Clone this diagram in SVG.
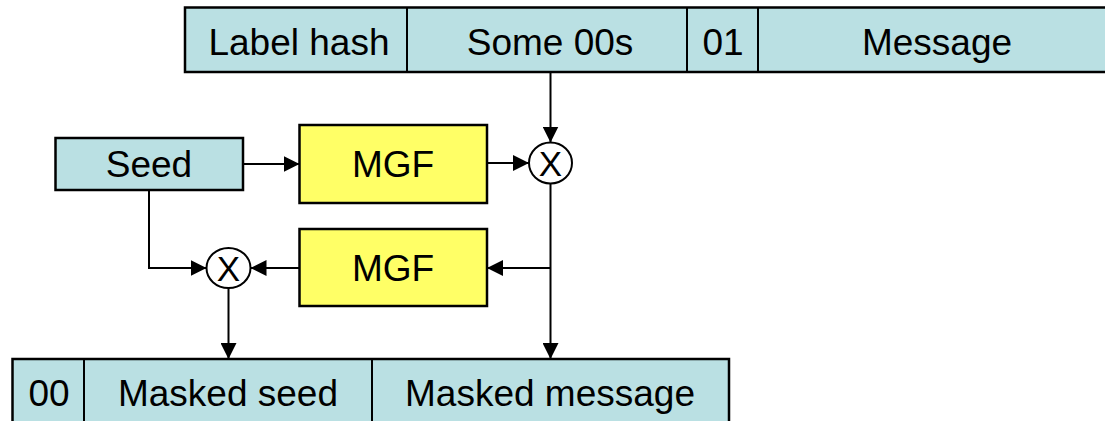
<svg xmlns="http://www.w3.org/2000/svg" width="1105" height="421" viewBox="0 0 1105 421">
  <defs>
    <style>
      .field { fill: #BAE0E3; stroke: #000; stroke-width: 2.5; }
      .sep { stroke: #000; stroke-width: 2; }
      .func { fill: #FFFF66; stroke: #000; stroke-width: 2.5; }
      .xor { fill: #fff; stroke: #000; stroke-width: 2; }
      .lbl { font-family: "Liberation Sans", Arial, sans-serif; font-size: 37px; fill: #000; text-anchor: middle; }
      .xlbl { font-family: "Liberation Sans", Arial, sans-serif; font-size: 35px; fill: #000; text-anchor: middle; }
      .wire { fill: none; stroke: #000; stroke-width: 2; }
    </style>
    <marker id="arrow" markerUnits="userSpaceOnUse" markerWidth="16" markerHeight="16" refX="16" refY="8" orient="auto">
      <path d="M0,0 L16,8 L0,16 z" fill="#000"/>
    </marker>
  </defs>

  <!-- encoded block: label hash | padding | 01 | message -->
  <g id="input-block">
    <rect class="field" x="185" y="7.5" width="930" height="64.5"/>
    <line class="sep" x1="407" y1="7.5" x2="407" y2="72"/>
    <line class="sep" x1="687" y1="7.5" x2="687" y2="72"/>
    <line class="sep" x1="758" y1="7.5" x2="758" y2="72"/>
    <text class="lbl" x="299" y="55">Label hash</text>
    <text class="lbl" x="550" y="55">Some 00s</text>
    <text class="lbl" x="723" y="55">01</text>
    <text class="lbl" x="937" y="55">Message</text>
  </g>

  <g id="seed">
    <rect class="field" x="55.5" y="138" width="187.5" height="52"/>
    <text class="lbl" x="149" y="177">Seed</text>
  </g>

  <g id="mgf1">
    <rect class="func" x="299.5" y="125" width="187.5" height="78"/>
    <text class="lbl" x="393" y="177">MGF</text>
  </g>

  <g id="mgf2">
    <rect class="func" x="299.5" y="229" width="187.5" height="77"/>
    <text class="lbl" x="393" y="281">MGF</text>
  </g>

  <g id="xor1">
    <ellipse class="xor" cx="550.5" cy="163" rx="21.5" ry="20.5"/>
    <text class="xlbl" x="550.5" y="175.5">X</text>
  </g>

  <g id="xor2">
    <ellipse class="xor" cx="228.5" cy="268" rx="22" ry="20"/>
    <text class="xlbl" x="228.5" y="280.5">X</text>
  </g>

  <!-- output block: 00 | masked seed | masked message -->
  <g id="output-block">
    <rect class="field" x="12.5" y="359" width="716.5" height="80"/>
    <line class="sep" x1="84" y1="359" x2="84" y2="421"/>
    <line class="sep" x1="372" y1="359" x2="372" y2="421"/>
    <text class="lbl" x="49" y="406">00</text>
    <text class="lbl" x="228" y="406">Masked seed</text>
    <text class="lbl" x="550" y="406">Masked message</text>
  </g>

  <g id="connectors">
    <line class="wire" x1="550.5" y1="72" x2="550.5" y2="142.5" marker-end="url(#arrow)"/>
    <line class="wire" x1="243" y1="164" x2="299.5" y2="164" marker-end="url(#arrow)"/>
    <line class="wire" x1="487" y1="163" x2="529" y2="163" marker-end="url(#arrow)"/>
    <line class="wire" x1="550.5" y1="183.5" x2="550.5" y2="359" marker-end="url(#arrow)"/>
    <line class="wire" x1="550.5" y1="268" x2="487" y2="268" marker-end="url(#arrow)"/>
    <line class="wire" x1="299.5" y1="268" x2="250.5" y2="268" marker-end="url(#arrow)"/>
    <polyline class="wire" points="149,190 149,268 206.5,268" marker-end="url(#arrow)"/>
    <line class="wire" x1="228.5" y1="288" x2="228.5" y2="359" marker-end="url(#arrow)"/>
  </g>
</svg>
